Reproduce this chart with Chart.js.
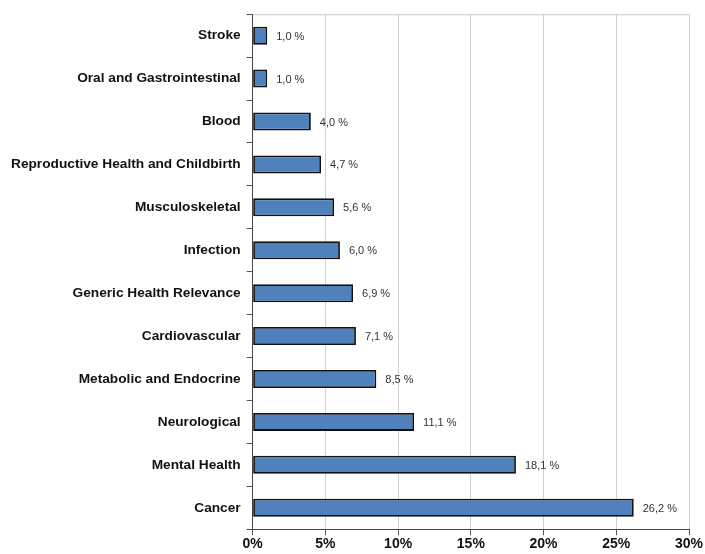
<!DOCTYPE html>
<html>
<head>
<meta charset="utf-8">
<script src="https://cdn.jsdelivr.net/npm/chart.js@4.4.0/dist/chart.umd.min.js"></script>
<style>
  html, body { margin: 0; padding: 0; background: #fff; }
  #wrap { width: 705px; height: 554px; }
</style>
</head>
<body>
<div id="wrap"><canvas id="share-chart" width="705" height="554"></canvas></div>
<script>
// Research areas, top to bottom
const areas = [
  'Stroke', 'Oral and Gastrointestinal', 'Blood', 'Reproductive Health and Childbirth',
  'Musculoskeletal', 'Infection', 'Generic Health Relevance', 'Cardiovascular',
  'Metabolic and Endocrine', 'Neurological', 'Mental Health', 'Cancer'
];
// Share of projects, percent
const shares = [1.0, 1.0, 4.0, 4.7, 5.6, 6.0, 6.9, 7.1, 8.5, 11.1, 18.1, 26.2];
const xTicks = [0, 5, 10, 15, 20, 25, 30];

const FONT = '"Liberation Sans", Arial, sans-serif';

// value labels just right of every bar, comma decimal
const valueLabels = {
  id: 'valueLabels',
  afterDatasetsDraw(chart) {
    const ctx = chart.ctx;
    const meta = chart.getDatasetMeta(0);
    ctx.save();
    ctx.font = '11px ' + FONT;
    ctx.fillStyle = '#333';
    ctx.textBaseline = 'middle';
    meta.data.forEach((bar, i) => {
      const txt = shares[i].toFixed(1).replace('.', ',') + ' %';
      ctx.fillText(txt, bar.x + 9, bar.y + 1);
    });
    ctx.restore();
  }
};

// thin grey frame on the top edge of the plot
const plotFrame = {
  id: 'plotFrame',
  beforeDatasetsDraw(chart) {
    const { ctx, chartArea: a } = chart;
    ctx.save();
    ctx.strokeStyle = '#c8c8c8';
    ctx.lineWidth = 1;
    ctx.beginPath();
    ctx.moveTo(a.left, a.top + 0.5);
    ctx.lineTo(a.right, a.top + 0.5);
    ctx.stroke();
    ctx.restore();
  }
};

new Chart(document.getElementById('share-chart'), {
  type: 'bar',
  data: {
    labels: areas,
    datasets: [{
      data: shares,
      backgroundColor: '#4f81bd',
      borderColor: '#111',
      borderWidth: 1.8,
      borderSkipped: false,
      barPercentage: 0.42,
      categoryPercentage: 1
    }]
  },
  options: {
    indexAxis: 'y',
    responsive: false,
    animation: false,
    layout: { padding: { top: 10, right: 16, left: 5, bottom: 0 } },
    plugins: { legend: { display: false }, tooltip: { enabled: false } },
    scales: {
      x: {
        min: 0,
        max: 30,
        afterBuildTicks(axis) { axis.ticks = xTicks.map(v => ({ value: v })); },
        grid: { color: '#d0d0d0', tickLength: 6, tickColor: '#555' },
        border: { color: '#444', width: 1 },
        ticks: {
          color: '#111',
          font: { family: FONT, size: 14, weight: 'bold' },
          padding: 1,
          callback: v => v + '%'
        }
      },
      y: {
        grid: { offset: true, drawOnChartArea: false, tickLength: 6, tickColor: '#555' },
        border: { color: '#444', width: 1 },
        ticks: {
          color: '#111',
          font: { family: FONT, size: 13.7, weight: 'bold' },
          padding: 6
        }
      }
    }
  },
  plugins: [valueLabels, plotFrame]
});
</script>
</body>
</html>
